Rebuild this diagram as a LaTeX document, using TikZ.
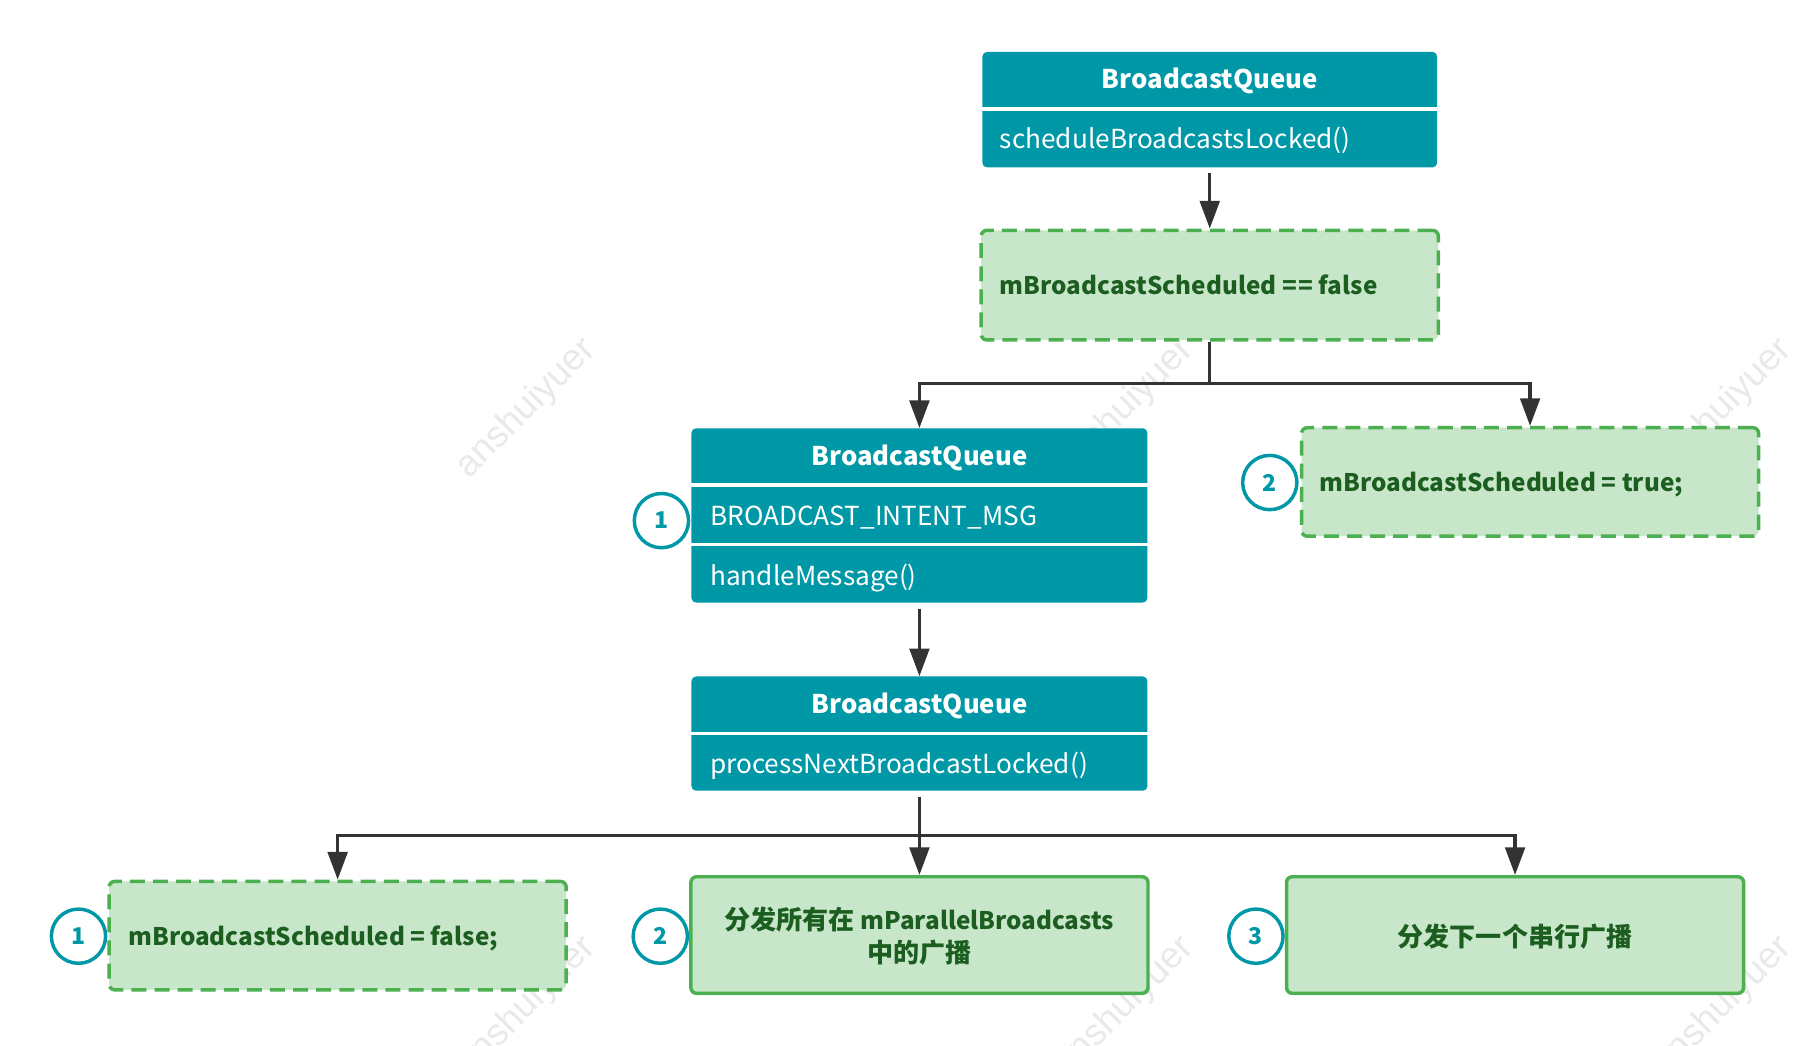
\documentclass[tikz,border=0pt]{standalone}
\usepackage{fontspec}
\setmainfont{Noto Sans CJK SC}
\newfontfamily\wmfont{Liberation Sans}
\usetikzlibrary{arrows.meta}
\definecolor{teal1}{HTML}{0097A7}
\definecolor{gfill}{HTML}{C8E6C9}
\definecolor{gline}{HTML}{4CAF50}
\definecolor{gtext}{HTML}{1B5E20}
\definecolor{conn}{HTML}{333333}
\definecolor{wm}{HTML}{E9E9E9}
\newcommand{\zh}[1]{{\fontsize{22.6}{28}\selectfont #1}}
\begin{document}
\begin{tikzpicture}[x=1pt,y=1pt,
 tealbox/.style={fill=teal1, draw=none, rounded corners=4pt, inner sep=0pt},
 sepline/.style={white, line width=3pt},
 hdr/.style={text=white, font=\fontsize{22.3}{26}\selectfont\bfseries, inner sep=0pt},
 rowtxt/.style={text=white, font=\fontsize{22.7}{26}\selectfont, inner sep=0pt},
 dbox/.style={fill=gfill, draw=gline, line width=3pt, dash pattern=on 13pt off 7pt, rounded corners=5pt, minimum width=396pt, inner sep=0pt},
 sbox/.style={fill=gfill, draw=gline, line width=3pt, rounded corners=5pt, minimum width=396pt, minimum height=101pt, inner sep=0pt},
 gtxt/.style={text=gtext, font=\fontsize{21}{28}\selectfont\bfseries, inner sep=0pt},
 numc/.style={circle, draw=teal1, fill=white, line width=3pt, minimum size=47pt, inner sep=0pt, text=teal1, font=\fontsize{20}{24}\selectfont\bfseries},
 arr/.style={draw=conn, line width=3pt, -{Triangle[length=24pt,width=17pt]}},
 ln/.style={draw=conn, line width=3pt},
 wmk/.style={text=wm, font=\wmfont\fontsize{32}{36}\selectfont, rotate=45, inner sep=0pt}
]
\useasboundingbox (0,0) rectangle (1568,-906);
% watermarks
\foreach \cx/\cy [count=\i] in {456/354, 974/354, 1492/354, 456/872, 974/872, 1492/872}
  \node[wmk] (wm\i) at (\cx,-\cy) {anshuiyuer};

% number circles
\node[numc] (n1) at (573,-451) {1};
\node[numc] (n2) at (1100,-418) {2};
\node[numc] (n3) at (68,-811) {1};
\node[numc] (n4) at (572,-811) {2};
\node[numc] (n5) at (1088,-811) {3};

% teal boxes
\node[tealbox, minimum width=394pt, minimum height=100pt] (q1) at (1048,-95) {};
\draw[sepline] ([yshift=-49.5pt]q1.north west) -- ([yshift=-49.5pt]q1.north east);
\node[hdr, anchor=base] (q1t) at (1048,-77) {BroadcastQueue};
\node[rowtxt, anchor=base west] (q1m) at (866,-129) {scheduleBroadcastsLocked()};

\node[tealbox, minimum width=395pt, minimum height=151pt] (q2) at (796.5,-446.5) {};
\draw[sepline] ([yshift=-49.5pt]q2.north west) -- ([yshift=-49.5pt]q2.north east);
\draw[sepline] ([yshift=-101pt]q2.north west) -- ([yshift=-101pt]q2.north east);
\node[hdr, anchor=base] (q2t) at (796.5,-403) {BroadcastQueue};
\node[rowtxt, anchor=base west] (q2m) at (615,-455) {BROADCAST\_INTENT\_MSG};
\node[rowtxt, anchor=base west] (q2h) at (615,-507) {handleMessage()};

\node[tealbox, minimum width=395pt, minimum height=99pt] (q3) at (796.5,-635.5) {};
\draw[sepline] ([yshift=-49.5pt]q3.north west) -- ([yshift=-49.5pt]q3.north east);
\node[hdr, anchor=base] (q3t) at (796.5,-618) {BroadcastQueue};
\node[rowtxt, anchor=base west] (q3m) at (615,-670) {processNextBroadcastLocked()};

% green boxes
\node[dbox, minimum height=95pt] (d1) at (1048,-247) {};
\node[gtxt, anchor=base west] (d1t) at (866,-255.5) {mBroadcastScheduled =\kern1.5pt= false};
\node[dbox, minimum height=94pt] (d2) at (1325.5,-417.5) {};
\node[gtxt, anchor=base west] (d2t) at (1143,-426) {mBroadcastScheduled = true;};
\node[dbox, minimum height=94pt] (b1) at (292.5,-810.5) {};
\node[gtxt, anchor=base west] (b1t) at (111,-819) {mBroadcastScheduled = false;};
\node[sbox] (b2) at (796.5,-810) {};
\node[gtxt, align=center] (b2t) at (796.5,-811) {\zh{分发所有在} mParallelBroadcasts\\\zh{中的广播}};
\node[sbox] (b3) at (1312.5,-810) {};
\node[gtxt] (b3t) at (1312.5,-811) {\zh{分发下一个串行广播}};

% connectors
\draw[arr, shorten <=5pt] (q1.south) -- (d1.north);
\coordinate (j1) at (1048,-332);
\draw[ln] (d1.south) -- (j1);
\draw[arr] (j1) -| (q2.north);
\draw[arr] (j1) -| (d2.north);
\draw[arr, shorten <=5pt] (q2.south) -- (q3.north);
\coordinate (j2) at (796.5,-724);
\draw[ln, shorten <=5pt] (q3.south) -- (j2);
\draw[arr] (j2) -- (b2.north);
\draw[arr] (j2) -| (b1.north);
\draw[arr] (j2) -| (b3.north);
\end{tikzpicture}
\end{document}
